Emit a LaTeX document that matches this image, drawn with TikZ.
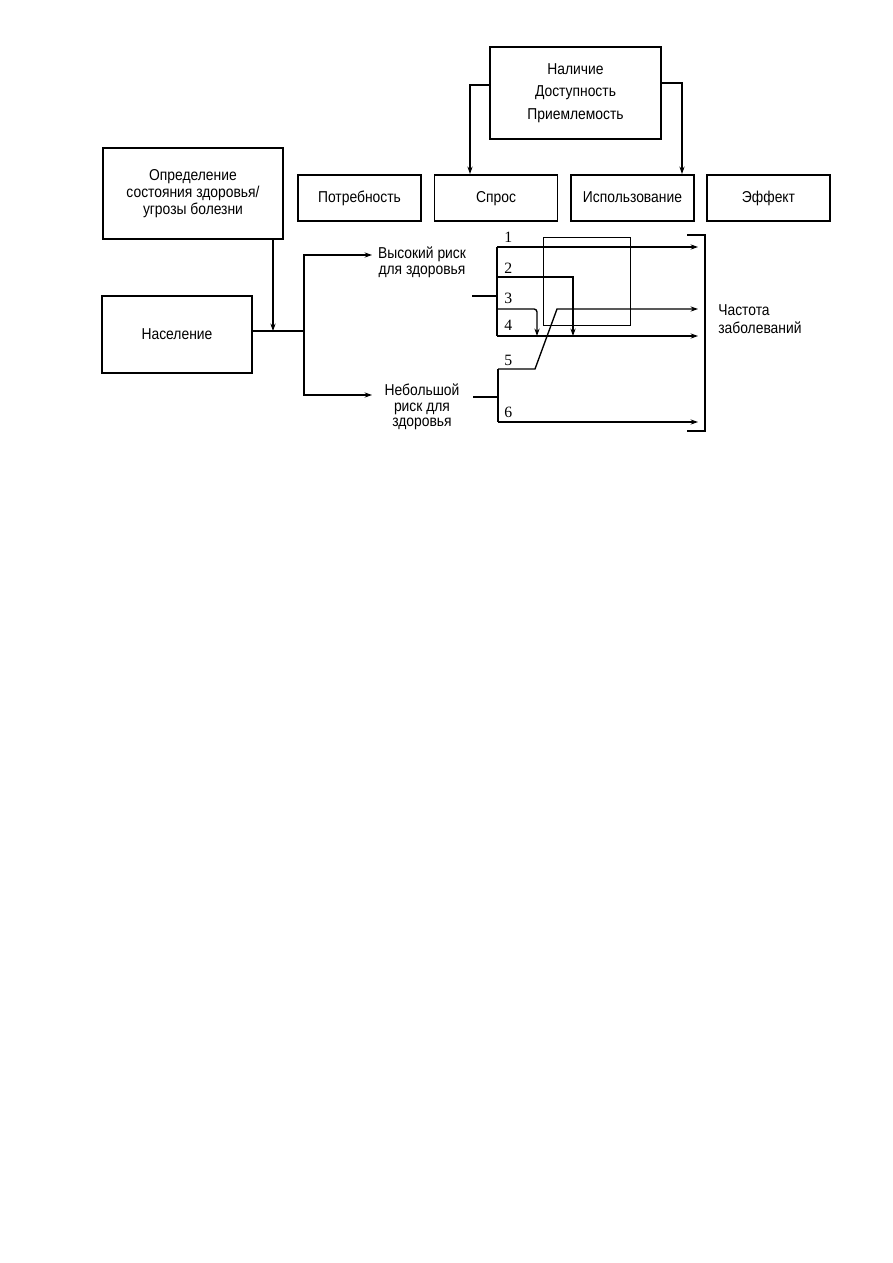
\documentclass[tikz,border=0pt]{standalone}
\usepackage{fontspec}
\setmainfont[FakeStretch=0.88]{Liberation Sans}
\newfontfamily\numfont{Liberation Serif}
\usetikzlibrary{arrows.meta}

\begin{document}
\begin{tikzpicture}[x=0.6667pt, y=-0.6667pt,
		>={Stealth[length=5pt,width=3.5pt]},
		conn/.style = {line width=0.9pt},
		box/.style = {draw, line width=1.3pt, align=center, inner sep=0pt,
			font=\fontsize{10.5}{11.3}\selectfont},
		stage/.style = {box, minimum width=82pt, minimum height=30.7pt,
			text height=7.8pt, text depth=2.4pt},
		risk/.style = {align=center, inner sep=0pt, font=\fontsize{10.5}{10.5}\selectfont},
		num/.style = {inner sep=0pt, anchor=west, font=\numfont\fontsize{10.5}{10.5}\selectfont}]
	\useasboundingbox (0,0) rectangle (893,1263);
	\node[box, minimum width=120pt, minimum height=60.7pt] (def) at (193,193.5) {Определение\\состояния здоровья/\\угрозы болезни};
	\node[stage] (need) at (359.5,198) {Потребность};
	\node[stage] (demand) at (496,198) {Спрос};
	\node[stage] (use) at (632.5,198) {Использование};
	\node[stage] (effect) at (768.5,198) {Эффект};
	\node[box, minimum width=114pt, minimum height=61.3pt,
		font=\fontsize{10.5}{15}\selectfont] (supply) at (575.5,93) {Наличие\\Доступность\\Приемлемость};
	\node[box, minimum width=100pt, minimum height=51.3pt] (pop) at (177,334.5) {Население};
	\node[risk] (high) at (422,262) {Высокий риск\\для здоровья};
	\node[risk] (low) at (422,407) {Небольшой\\риск для\\здоровья};
	\node[risk, anchor=west, align=left, font=\fontsize{10.5}{12}\selectfont] (rate) at (718,319) {Частота\\заболеваний};
	\foreach \n/\y in {1/237,2/268,3/298,4/325,5/360,6/412}
		\node[num] (n\n) at (504,\y) {\n};

	\coordinate (j) at (273,331);
	\coordinate (br) at (304,331);
	\coordinate (hiin) at (372,255);
	\coordinate (loin) at (372,395);
	\draw[conn,->] (def.south -| j) -- (j);
	\draw[conn] (pop.east |- j) -- (br);
	\draw[conn,->] (br) |- (hiin);
	\draw[conn,->] (br) |- (loin);

	\coordinate (sl) at (470,85);
	\coordinate (sr) at (682,83);
	\draw[conn,->] (supply.west |- sl) -| (demand.north -| sl);
	\draw[conn,->] (supply.east |- sr) -| (use.north -| sr);

	\coordinate (ua) at (497,247);
	\coordinate (ub) at (497,336);
	\coordinate (uin) at (472,296);
	\coordinate (u2) at (497,277);
	\coordinate (d2) at (573,336);
	\coordinate (u4) at (497,309);
	\coordinate (d4) at (537,336);
	\coordinate (la) at (498,369);
	\coordinate (lb) at (498,422);
	\coordinate (lin) at (473,397);
	\coordinate (k1) at (535,369);
	\coordinate (k2) at (557,309);
	\coordinate (o1) at (698,247);
	\coordinate (o5) at (698,309);
	\coordinate (o4) at (698,336);
	\coordinate (o6) at (698,422);

	\draw[line width=0.6pt] (543,237) rectangle (630,325);
	\draw[conn] (uin) -- (uin -| ua);
	\draw[conn] (ua) -- (ub);
	\draw[conn,->] (ua) -- (o1);
	\draw[conn,->] (u2) -| (d2);
	\draw[conn,->,rounded corners=2pt] (u4) -| (d4);
	\draw[conn,->] (ub) -- (o4);
	\draw[conn] (lin) -- (lin -| la);
	\draw[conn] (la) -- (lb);
	\draw[conn,->] (la) -- (k1) -- (k2) -- (o5);
	\draw[conn,->] (lb) -- (o6);
	\draw[conn] (687,235) -- (705,235) -- (705,431) -- (687,431);
\end{tikzpicture}
\end{document}
